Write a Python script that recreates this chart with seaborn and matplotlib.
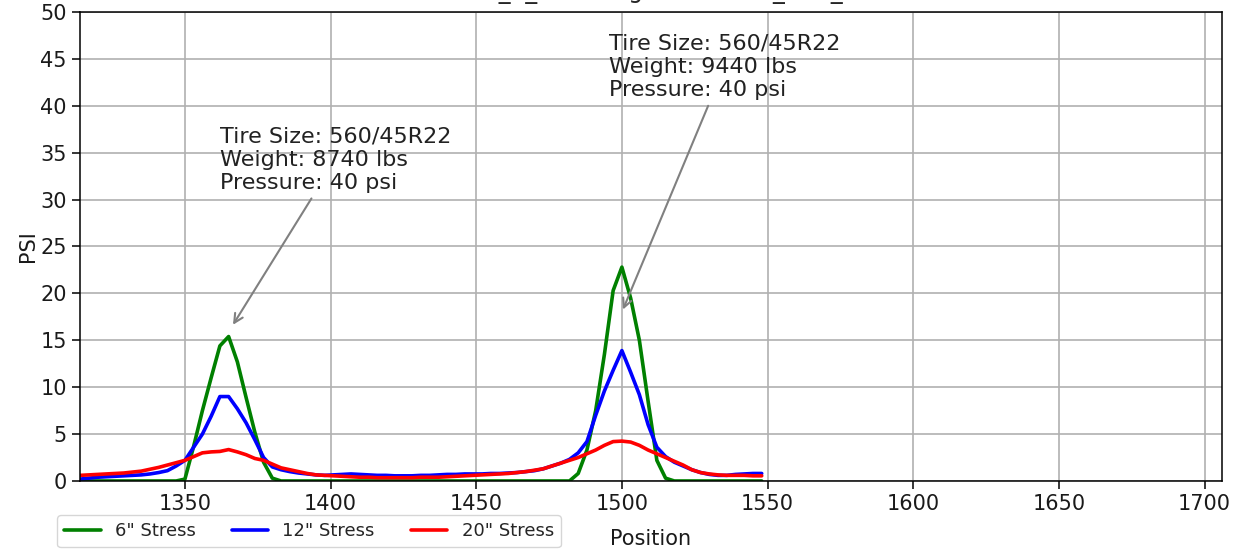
import numpy as np
import pandas as pd
import matplotlib
matplotlib.use('Agg')
import matplotlib.pyplot as plt
import seaborn as sns

# positions (every 3 units)
position = [1314, 1317, 1320, 1323, 1326, 1329, 1332, 1335, 1338, 1341,
            1344, 1347, 1350, 1353, 1356, 1359, 1362, 1365, 1368, 1371,
            1374, 1377, 1380, 1383, 1386, 1389, 1392, 1395, 1398, 1401,
            1404, 1407, 1410, 1413, 1416, 1419, 1422, 1425, 1428, 1431,
            1434, 1437, 1440, 1443, 1446, 1449, 1452, 1455, 1458, 1461,
            1464, 1467, 1470, 1473, 1476, 1479, 1482, 1485, 1488, 1491,
            1494, 1497, 1500, 1503, 1506, 1509, 1512, 1515, 1518, 1521,
            1524, 1527, 1530, 1533, 1536, 1539, 1542, 1545, 1548]

stress_6 = [0, 0, 0, 0, 0, 0, 0, 0, 0, 0,
            0, 0, 0.2, 3.7, 7.5, 11.0, 14.4, 15.4, 12.7, 8.9,
            5.2, 2.0, 0.3, 0, 0, 0, 0, 0, 0, 0,
            0, 0, 0, 0, 0, 0, 0, 0, 0, 0,
            0, 0, 0, 0, 0, 0, 0, 0, 0, 0,
            0, 0, 0, 0, 0, 0, 0, 0.8, 3.3, 7.5,
            13.5, 20.3, 22.8, 19.5, 15.0, 8.5, 2.2, 0.3, 0, 0,
            0, 0, 0, 0, 0, 0, 0, 0, 0]

stress_12 = [0.2, 0.3, 0.4, 0.45, 0.5, 0.55, 0.6, 0.65, 0.75, 0.9,
             1.1, 1.6, 2.2, 3.6, 5.0, 6.9, 9.0, 9.0, 7.7, 6.2,
             4.4, 2.5, 1.5, 1.2, 1.0, 0.85, 0.75, 0.65, 0.6, 0.65,
             0.7, 0.75, 0.7, 0.65, 0.6, 0.6, 0.55, 0.55, 0.55, 0.6,
             0.6, 0.65, 0.7, 0.7, 0.75, 0.75, 0.75, 0.8, 0.8, 0.85,
             0.9, 1.0, 1.1, 1.3, 1.6, 1.9, 2.3, 3.0, 4.2, 7.0,
             9.6, 11.8, 13.9, 11.6, 9.2, 6.0, 3.6, 2.6, 2.0, 1.6,
             1.2, 0.9, 0.7, 0.6, 0.6, 0.7, 0.75, 0.8, 0.8]

stress_20 = [0.6, 0.65, 0.7, 0.75, 0.8, 0.85, 0.95, 1.05, 1.25, 1.45,
             1.7, 1.95, 2.2, 2.6, 3.0, 3.1, 3.15, 3.35, 3.1, 2.8,
             2.4, 2.2, 1.8, 1.4, 1.2, 1.0, 0.8, 0.65, 0.6, 0.55,
             0.5, 0.45, 0.4, 0.4, 0.35, 0.35, 0.35, 0.35, 0.35, 0.4,
             0.4, 0.4, 0.45, 0.5, 0.55, 0.6, 0.65, 0.7, 0.75, 0.8,
             0.9, 1.0, 1.15, 1.3, 1.6, 1.9, 2.2, 2.5, 2.9, 3.3,
             3.8, 4.2, 4.25, 4.15, 3.8, 3.3, 2.9, 2.5, 2.1, 1.7,
             1.2, 0.9, 0.75, 0.65, 0.6, 0.6, 0.6, 0.55, 0.55]

series_labels = ['6" Stress', '12" Stress', '20" Stress']
series_colors = ['green', 'blue', 'red']

notes = ['Tire Size: 560/45R22\nWeight: 8740 lbs\nPressure: 40 psi',
         'Tire Size: 560/45R22\nWeight: 9440 lbs\nPressure: 40 psi']
note_xy = [(1366, 16.4), (1500, 18.0)]
note_text_xy = [(1362, 37.8), (1495.5, 47.7)]

# only the bottom edge of the title is visible in the original
title = 'Stress Records 01_1_Data Log Test Run 0_B12_01'

df = pd.DataFrame({'Position': position,
                   series_labels[0]: stress_6,
                   series_labels[1]: stress_12,
                   series_labels[2]: stress_20})
long_df = df.melt(id_vars='Position', var_name='Series', value_name='PSI')

sns.set_style('whitegrid')
plt.rcParams['font.family'] = ['DejaVu Sans']

fig = plt.figure(figsize=(12.43, 5.54), dpi=100)
ax = fig.add_axes([0.0644, 0.1318, 0.9187, 0.8466])

sns.lineplot(data=long_df, x='Position', y='PSI', hue='Series',
             palette=dict(zip(series_labels, series_colors)),
             linewidth=2.6, ax=ax)

ax.set_xlim(1314, 1706)
ax.set_ylim(0, 50)
ax.set_yticks(range(0, 51, 5))
ax.grid(True, color='#b0b0b0', linewidth=1.2)
for s in ax.spines.values():
    s.set_color('black')
    s.set_linewidth(1.1)
ax.tick_params(axis='both', labelsize=15, length=6, width=1.1, color='black',
               labelcolor='#1a1a1a', bottom=True, left=True)
ax.set_xlabel('Position', fontsize=15, labelpad=11, color='#1a1a1a')
ax.set_ylabel('PSI', fontsize=15, labelpad=2, color='#1a1a1a')

for txt, xy, xyt in zip(notes, note_xy, note_text_xy):
    ax.annotate(txt, xy=xy, xytext=xyt, fontsize=16, va='top', ha='left',
                color='#222222',
                arrowprops=dict(arrowstyle='->', color='gray', lw=1.5))

ax.legend(loc='upper left', bbox_to_anchor=(0.046, 0.0704),
          bbox_transform=fig.transFigure, ncol=3, fontsize=13,
          borderaxespad=0, frameon=True, title=None)

fig.text(0.2309, 1.003, title, ha='left', va='baseline', fontsize=17)

fig.savefig('out.png', dpi=100)
